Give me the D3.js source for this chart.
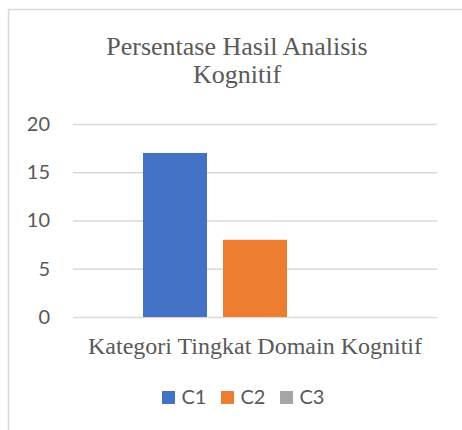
<!DOCTYPE html>
<html>
<head>
<meta charset="utf-8">
<script src="https://cdn.jsdelivr.net/npm/d3@7"></script>
<style>
  body { margin: 0; background: #fff; }
  svg { display: block; }
</style>
</head>
<body>
<svg width="462" height="430"></svg>
<script>
// data
var categories = ["Kategori Tingkat Domain Kognitif"];
var series = ["C1", "C2", "C3"];
var values = [17, 8, 0];
var yTicks = [0, 5, 10, 15, 20];
var colors = ["#4472C4", "#ED7D31", "#A5A5A5"];

var textColor = "#595959";
var svg = d3.select("svg");

// outer chart border (runs off the right / bottom of the picture)
svg.append("rect")
    .attr("x", 8.5).attr("y", 9.5)
    .attr("width", 470).attr("height", 440)
    .attr("fill", "none")
    .attr("stroke", "#d9d9d9")
    .attr("stroke-width", 1.5);

// title
var title = svg.append("text")
    .attr("text-anchor", "middle")
    .attr("fill", textColor)
    .style("font-family", "'Liberation Serif', 'Times New Roman', serif")
    .style("font-size", "26px");
title.append("tspan").attr("x", 237).attr("y", 55).text("Persentase Hasil Analisis");
title.append("tspan").attr("x", 237).attr("y", 83).text("Kognitif");

// plot area (named so it doesn't clash with window.top)
var plotLeft = 73, plotRight = 437, plotTop = 124, plotBottom = 317;

var y = d3.scaleLinear().domain([0, 20]).range([plotBottom, plotTop]);
var x0 = d3.scaleBand().domain(categories).range([plotLeft, plotRight]).padding(0);
var x1 = d3.scaleBand().domain(series).range([0, x0.bandwidth()])
    .paddingInner(0.2).paddingOuter(0.875);

// y axis + gridlines
var yAxis = svg.append("g")
    .attr("transform", "translate(" + plotLeft + ",0)")
    .call(d3.axisLeft(y).tickValues(yTicks).tickSize(-(plotRight - plotLeft)).tickPadding(23));
yAxis.select(".domain").remove();
yAxis.selectAll(".tick line").attr("stroke", "#d9d9d9").attr("stroke-width", 1.3);
yAxis.selectAll(".tick text")
    .attr("fill", textColor)
    .style("font-family", "Lato, 'Open Sans', sans-serif")
    .style("font-size", "20px");

// bars
var group = svg.append("g").selectAll("g")
    .data(categories)
    .join("g")
    .attr("transform", function(d) { return "translate(" + x0(d) + ",0)"; });

group.selectAll("rect")
    .data(series.map(function(s, i) { return { key: s, value: values[i], color: colors[i] }; }))
    .join("rect")
    .attr("x", function(d) { return x1(d.key); })
    .attr("y", function(d) { return y(d.value); })
    .attr("width", x1.bandwidth())
    .attr("height", function(d) { return y(0) - y(d.value); })
    .attr("fill", function(d) { return d.color; });

// category label (acts as axis title)
svg.append("g").selectAll("text")
    .data(categories)
    .join("text")
    .attr("x", function(d) { return x0(d) + x0.bandwidth() / 2; })
    .attr("y", 354)
    .attr("text-anchor", "middle")
    .attr("fill", textColor)
    .style("font-family", "'Liberation Serif', 'Times New Roman', serif")
    .style("font-size", "24px")
    .text(function(d) { return d; });

// legend
var legend = svg.append("g").selectAll("g")
    .data(series)
    .join("g")
    .attr("transform", function(d, i) { return "translate(" + (162 + i * 59) + ",391)"; });
legend.append("rect")
    .attr("width", 13).attr("height", 13)
    .attr("fill", function(d, i) { return colors[i]; });
legend.append("text")
    .attr("x", 19.5).attr("y", 13)
    .attr("fill", textColor)
    .style("font-family", "Lato, 'Open Sans', sans-serif")
    .style("font-size", "20px")
    .text(function(d) { return d; });
</script>
</body>
</html>
